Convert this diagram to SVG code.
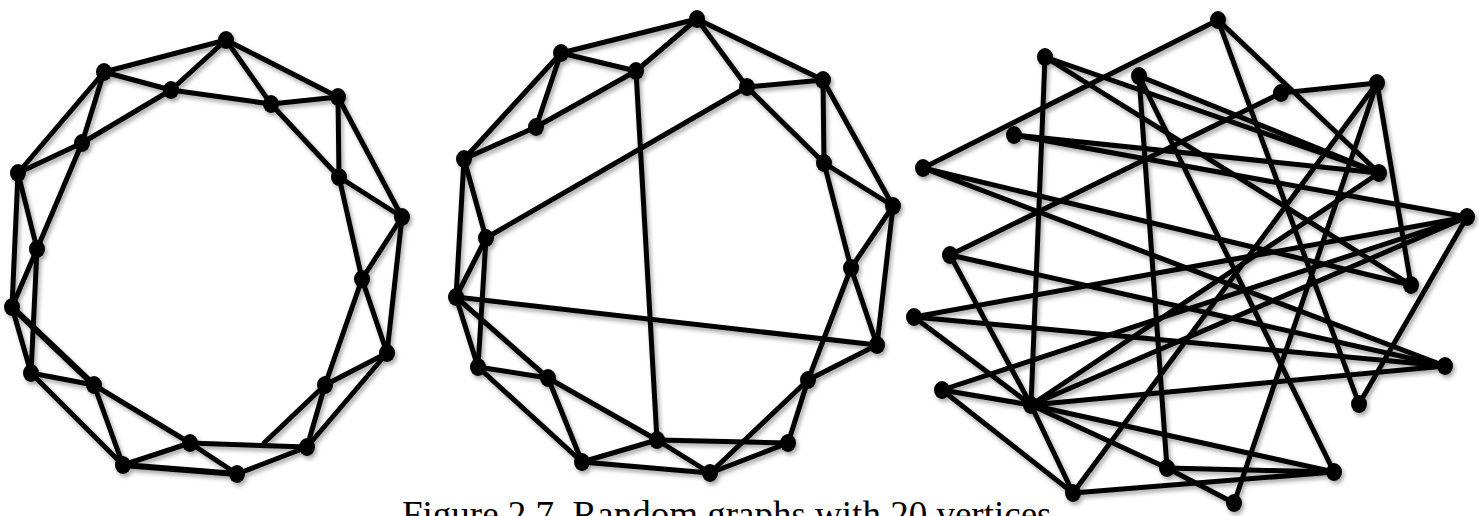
<svg xmlns="http://www.w3.org/2000/svg" width="1479" height="516" viewBox="0 0 1479 516">
<defs>
<filter id="sh" x="-20%" y="-20%" width="140%" height="140%">
<feDropShadow dx="2" dy="3" stdDeviation="2" flood-color="#000" flood-opacity="0.35"/>
</filter>
<style>
.e line{stroke:#000;stroke-width:5;stroke-linecap:round}
.v{fill:#000}
.cap{font-family:"Liberation Serif","Times New Roman",serif;font-size:37px;fill:#000}
</style>
</defs>
<rect width="1479" height="516" fill="#fff"/>
<g filter="url(#sh)">
<g id="connectors1" class="e">
<line x1="226" y1="40" x2="104" y2="72"/>
<line x1="226" y1="40" x2="171" y2="90"/>
<line x1="226" y1="40" x2="271" y2="104"/>
<line x1="226" y1="40" x2="338" y2="97"/>
<line x1="104" y1="72" x2="171" y2="90"/>
<line x1="104" y1="72" x2="18" y2="173"/>
<line x1="104" y1="72" x2="82" y2="143"/>
<line x1="171" y1="90" x2="271" y2="104"/>
<line x1="171" y1="90" x2="82" y2="143"/>
<line x1="271" y1="104" x2="338" y2="97"/>
<line x1="271" y1="104" x2="339" y2="177"/>
<line x1="338" y1="97" x2="339" y2="177"/>
<line x1="338" y1="97" x2="402" y2="217"/>
<line x1="82" y1="143" x2="18" y2="173"/>
<line x1="82" y1="143" x2="37" y2="249"/>
<line x1="18" y1="173" x2="37" y2="249"/>
<line x1="18" y1="173" x2="12" y2="307"/>
<line x1="339" y1="177" x2="402" y2="217"/>
<line x1="339" y1="177" x2="362" y2="279"/>
<line x1="402" y1="217" x2="362" y2="279"/>
<line x1="402" y1="217" x2="387" y2="353"/>
<line x1="37" y1="249" x2="12" y2="307"/>
<line x1="37" y1="249" x2="31" y2="373"/>
<line x1="12" y1="307" x2="31" y2="373"/>
<line x1="12" y1="307" x2="94" y2="385" style="stroke-width:6"/>
<line x1="362" y1="279" x2="387" y2="353"/>
<line x1="362" y1="279" x2="325" y2="385"/>
<line x1="387" y1="353" x2="325" y2="385"/>
<line x1="387" y1="353" x2="307" y2="447"/>
<line x1="31" y1="373" x2="94" y2="385"/>
<line x1="31" y1="373" x2="123" y2="465"/>
<line x1="94" y1="385" x2="190" y2="443"/>
<line x1="94" y1="385" x2="123" y2="465"/>
<line x1="325" y1="385" x2="307" y2="447"/>
<line x1="325" y1="385" x2="264" y2="443"/>
<line x1="190" y1="443" x2="307" y2="447"/>
<line x1="190" y1="443" x2="123" y2="465"/>
<line x1="190" y1="443" x2="237" y2="474"/>
<line x1="123" y1="465" x2="237" y2="474" style="stroke-width:6"/>
<line x1="307" y1="447" x2="237" y2="474"/>
</g>
<g id="connectors2" class="e">
<line x1="697" y1="19" x2="561" y2="53"/>
<line x1="697" y1="19" x2="636" y2="71"/>
<line x1="697" y1="19" x2="747" y2="87"/>
<line x1="697" y1="19" x2="823" y2="80"/>
<line x1="561" y1="53" x2="636" y2="71"/>
<line x1="561" y1="53" x2="536" y2="127"/>
<line x1="561" y1="53" x2="464" y2="159"/>
<line x1="636" y1="71" x2="536" y2="127"/>
<line x1="636" y1="71" x2="657" y2="440"/>
<line x1="747" y1="87" x2="823" y2="80"/>
<line x1="747" y1="87" x2="824" y2="163"/>
<line x1="747" y1="87" x2="486" y2="238"/>
<line x1="823" y1="80" x2="824" y2="163"/>
<line x1="823" y1="80" x2="893" y2="206"/>
<line x1="536" y1="127" x2="464" y2="159"/>
<line x1="464" y1="159" x2="486" y2="238"/>
<line x1="464" y1="159" x2="456" y2="297"/>
<line x1="824" y1="163" x2="893" y2="206"/>
<line x1="824" y1="163" x2="851" y2="268"/>
<line x1="893" y1="206" x2="851" y2="268"/>
<line x1="893" y1="206" x2="877" y2="345"/>
<line x1="486" y1="238" x2="456" y2="297"/>
<line x1="486" y1="238" x2="478" y2="367"/>
<line x1="456" y1="297" x2="877" y2="345"/>
<line x1="456" y1="297" x2="478" y2="367"/>
<line x1="456" y1="297" x2="548" y2="378"/>
<line x1="851" y1="268" x2="877" y2="345"/>
<line x1="851" y1="268" x2="808" y2="380"/>
<line x1="877" y1="345" x2="808" y2="380"/>
<line x1="478" y1="367" x2="548" y2="378"/>
<line x1="478" y1="367" x2="582" y2="462"/>
<line x1="548" y1="378" x2="657" y2="440"/>
<line x1="548" y1="378" x2="582" y2="462"/>
<line x1="808" y1="380" x2="788" y2="443"/>
<line x1="808" y1="380" x2="710" y2="473"/>
<line x1="657" y1="440" x2="788" y2="443"/>
<line x1="657" y1="440" x2="582" y2="462"/>
<line x1="657" y1="440" x2="710" y2="473"/>
<line x1="788" y1="443" x2="710" y2="473"/>
<line x1="582" y1="462" x2="710" y2="473"/>
</g>
<g id="connectors3" class="e">
<line x1="1218" y1="20" x2="923" y2="168"/>
<line x1="1218" y1="20" x2="1379" y2="173"/>
<line x1="1218" y1="20" x2="1359" y2="404"/>
<line x1="1045" y1="57" x2="1031" y2="405"/>
<line x1="1045" y1="57" x2="1379" y2="173"/>
<line x1="1045" y1="57" x2="1411" y2="285"/>
<line x1="1139" y1="76" x2="1167" y2="468"/>
<line x1="1139" y1="76" x2="1334" y2="472"/>
<line x1="1139" y1="76" x2="1379" y2="173"/>
<line x1="1281" y1="93" x2="1377" y2="83"/>
<line x1="1281" y1="93" x2="950" y2="255"/>
<line x1="1377" y1="83" x2="1411" y2="285"/>
<line x1="1377" y1="83" x2="1073" y2="493"/>
<line x1="1377" y1="83" x2="1234" y2="503"/>
<line x1="1014" y1="135" x2="1379" y2="173"/>
<line x1="1014" y1="135" x2="1467" y2="217"/>
<line x1="923" y1="168" x2="1411" y2="285"/>
<line x1="923" y1="168" x2="1445" y2="366"/>
<line x1="950" y1="255" x2="1031" y2="405"/>
<line x1="950" y1="255" x2="1445" y2="366"/>
<line x1="914" y1="317" x2="1467" y2="217"/>
<line x1="914" y1="317" x2="1445" y2="366"/>
<line x1="914" y1="317" x2="1031" y2="405"/>
<line x1="942" y1="390" x2="1467" y2="217"/>
<line x1="942" y1="390" x2="1031" y2="405"/>
<line x1="942" y1="390" x2="1073" y2="493"/>
<line x1="1031" y1="405" x2="1445" y2="366"/>
<line x1="1031" y1="405" x2="1073" y2="493"/>
<line x1="1031" y1="405" x2="1334" y2="472"/>
<line x1="1031" y1="405" x2="1167" y2="468"/>
<line x1="1031" y1="405" x2="1379" y2="173"/>
<line x1="1031" y1="405" x2="1467" y2="217"/>
<line x1="1073" y1="493" x2="1334" y2="472"/>
<line x1="1167" y1="468" x2="1334" y2="472"/>
<line x1="1167" y1="468" x2="1234" y2="503"/>
<line x1="1467" y1="217" x2="1359" y2="404"/>
</g>
<g id="g1-nodes" class="v">
<ellipse id="n1-0" cx="226" cy="40" rx="8" ry="9"/>
<ellipse id="n1-1" cx="104" cy="72" rx="8" ry="9"/>
<ellipse id="n1-2" cx="171" cy="90" rx="8" ry="9"/>
<ellipse id="n1-3" cx="271" cy="104" rx="8" ry="9"/>
<ellipse id="n1-4" cx="338" cy="97" rx="8" ry="9"/>
<ellipse id="n1-5" cx="82" cy="143" rx="8" ry="9"/>
<ellipse id="n1-6" cx="18" cy="173" rx="8" ry="9"/>
<ellipse id="n1-7" cx="339" cy="177" rx="8" ry="9"/>
<ellipse id="n1-8" cx="402" cy="217" rx="8" ry="9"/>
<ellipse id="n1-9" cx="37" cy="249" rx="8" ry="9"/>
<ellipse id="n1-10" cx="12" cy="307" rx="8" ry="9"/>
<ellipse id="n1-11" cx="362" cy="279" rx="8" ry="9"/>
<ellipse id="n1-12" cx="387" cy="353" rx="8" ry="9"/>
<ellipse id="n1-13" cx="31" cy="373" rx="8" ry="9"/>
<ellipse id="n1-14" cx="94" cy="385" rx="8" ry="9"/>
<ellipse id="n1-15" cx="325" cy="385" rx="8" ry="9"/>
<ellipse id="n1-16" cx="190" cy="443" rx="8" ry="9"/>
<ellipse id="n1-17" cx="307" cy="447" rx="8" ry="9"/>
<ellipse id="n1-18" cx="123" cy="465" rx="8" ry="9"/>
<ellipse id="n1-19" cx="237" cy="474" rx="8" ry="9"/>
</g>
<g id="g2-nodes" class="v">
<ellipse id="n2-0" cx="697" cy="19" rx="8" ry="9"/>
<ellipse id="n2-1" cx="561" cy="53" rx="8" ry="9"/>
<ellipse id="n2-2" cx="636" cy="71" rx="8" ry="9"/>
<ellipse id="n2-3" cx="747" cy="87" rx="8" ry="9"/>
<ellipse id="n2-4" cx="823" cy="80" rx="8" ry="9"/>
<ellipse id="n2-5" cx="536" cy="127" rx="8" ry="9"/>
<ellipse id="n2-6" cx="464" cy="159" rx="8" ry="9"/>
<ellipse id="n2-7" cx="824" cy="163" rx="8" ry="9"/>
<ellipse id="n2-8" cx="893" cy="206" rx="8" ry="9"/>
<ellipse id="n2-9" cx="486" cy="238" rx="8" ry="9"/>
<ellipse id="n2-10" cx="456" cy="297" rx="8" ry="9"/>
<ellipse id="n2-11" cx="851" cy="268" rx="8" ry="9"/>
<ellipse id="n2-12" cx="877" cy="345" rx="8" ry="9"/>
<ellipse id="n2-13" cx="478" cy="367" rx="8" ry="9"/>
<ellipse id="n2-14" cx="548" cy="378" rx="8" ry="9"/>
<ellipse id="n2-15" cx="808" cy="380" rx="8" ry="9"/>
<ellipse id="n2-16" cx="657" cy="440" rx="8" ry="9"/>
<ellipse id="n2-17" cx="788" cy="443" rx="8" ry="9"/>
<ellipse id="n2-18" cx="582" cy="462" rx="8" ry="9"/>
<ellipse id="n2-19" cx="710" cy="473" rx="8" ry="9"/>
</g>
<g id="g3-nodes" class="v">
<ellipse id="n3-0" cx="1218" cy="20" rx="8" ry="9"/>
<ellipse id="n3-1" cx="1045" cy="57" rx="8" ry="9"/>
<ellipse id="n3-2" cx="1139" cy="76" rx="8" ry="9"/>
<ellipse id="n3-3" cx="1281" cy="93" rx="8" ry="9"/>
<ellipse id="n3-4" cx="1377" cy="83" rx="8" ry="9"/>
<ellipse id="n3-5" cx="1014" cy="135" rx="8" ry="9"/>
<ellipse id="n3-6" cx="923" cy="168" rx="8" ry="9"/>
<ellipse id="n3-7" cx="1379" cy="173" rx="8" ry="9"/>
<ellipse id="n3-8" cx="1467" cy="217" rx="8" ry="9"/>
<ellipse id="n3-9" cx="950" cy="255" rx="8" ry="9"/>
<ellipse id="n3-10" cx="914" cy="317" rx="8" ry="9"/>
<ellipse id="n3-11" cx="1411" cy="285" rx="8" ry="9"/>
<ellipse id="n3-12" cx="1445" cy="366" rx="8" ry="9"/>
<ellipse id="n3-13" cx="942" cy="390" rx="8" ry="9"/>
<ellipse id="n3-14" cx="1031" cy="405" rx="8" ry="9"/>
<ellipse id="n3-15" cx="1359" cy="404" rx="8" ry="9"/>
<ellipse id="n3-16" cx="1167" cy="468" rx="8" ry="9"/>
<ellipse id="n3-17" cx="1334" cy="472" rx="8" ry="9"/>
<ellipse id="n3-18" cx="1073" cy="493" rx="8" ry="9"/>
<ellipse id="n3-19" cx="1234" cy="503" rx="8" ry="9"/>
</g>
</g>
<text class="cap" x="402" y="527">Figure 2.7. Random graphs with 20 vertices</text>
</svg>
